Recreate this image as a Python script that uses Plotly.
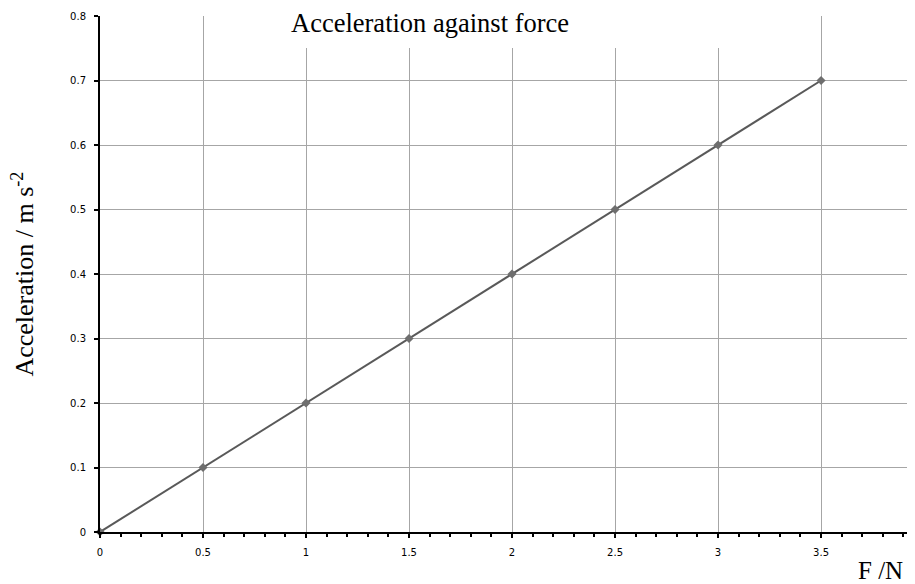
import plotly.graph_objects as go

force = [0, 0.5, 1.0, 1.5, 2.0, 2.5, 3.0, 3.5]
acceleration = [0, 0.1, 0.2, 0.3, 0.4, 0.5, 0.6, 0.7]

fig = go.Figure()
fig.add_trace(go.Scatter(
    x=force, y=acceleration, mode="lines+markers",
    line=dict(color="#595959", width=2),
    marker=dict(symbol="diamond", size=7, color="#6e6e6e"),
    showlegend=False, cliponaxis=False,
))

fig.update_layout(
    width=907, height=576,
    margin=dict(l=92, r=0, t=8, b=52),
    paper_bgcolor="white", plot_bgcolor="white",
    xaxis=dict(
        range=[0, 3.956], tick0=0, dtick=0.5, automargin=False,
        showgrid=True, gridcolor="#a6a6a6", gridwidth=1,
        showline=True, linecolor="black", linewidth=2,
        ticks="outside", ticklen=4, tickcolor="black", tickwidth=2,
        minor=dict(dtick=0.1, ticks="outside", ticklen=3, tickcolor="black", tickwidth=2, showgrid=False),
        tickfont=dict(family="DejaVu Sans", size=10, color="black"),
        ticklabelstandoff=6, zeroline=False,
        tickformat="~g",
    ),
    yaxis=dict(
        range=[0, 0.8], tick0=0, dtick=0.1, automargin=False,
        showgrid=True, gridcolor="#a6a6a6", gridwidth=1,
        showline=True, linecolor="black", linewidth=2,
        ticks="outside", ticklen=4, tickcolor="black", tickwidth=2,
        tickfont=dict(family="DejaVu Sans", size=10, color="black"),
        ticklabelstandoff=6, zeroline=False,
        tickformat="~g",
    ),
    shapes=[dict(type="rect", xref="paper", yref="paper",
                 x0=0.2098, x1=0.785, y0=0.938, y1=1.05,
                 fillcolor="white", line=dict(width=0), layer="above")],
    annotations=[
        dict(text="Acceleration against force", xref="paper", yref="paper",
             x=0.405, y=0.986, xanchor="center", yanchor="middle",
             showarrow=False,
             font=dict(family="Liberation Serif", size=26.5, color="black")),
        dict(text="Acceleration / m s<sup>-2</sup>", xref="paper", yref="paper",
             x=-0.095, y=0.5, xanchor="center", yanchor="middle",
             textangle=-90, showarrow=False,
             font=dict(family="Liberation Serif", size=26, color="black")),
        dict(text="F /N", xref="paper", yref="paper",
             x=0.987, y=-0.074, xanchor="right", yanchor="middle",
             showarrow=False, borderpad=0,
             font=dict(family="Liberation Serif", size=25, color="black")),
    ],
)

fig.write_html("out.html")
